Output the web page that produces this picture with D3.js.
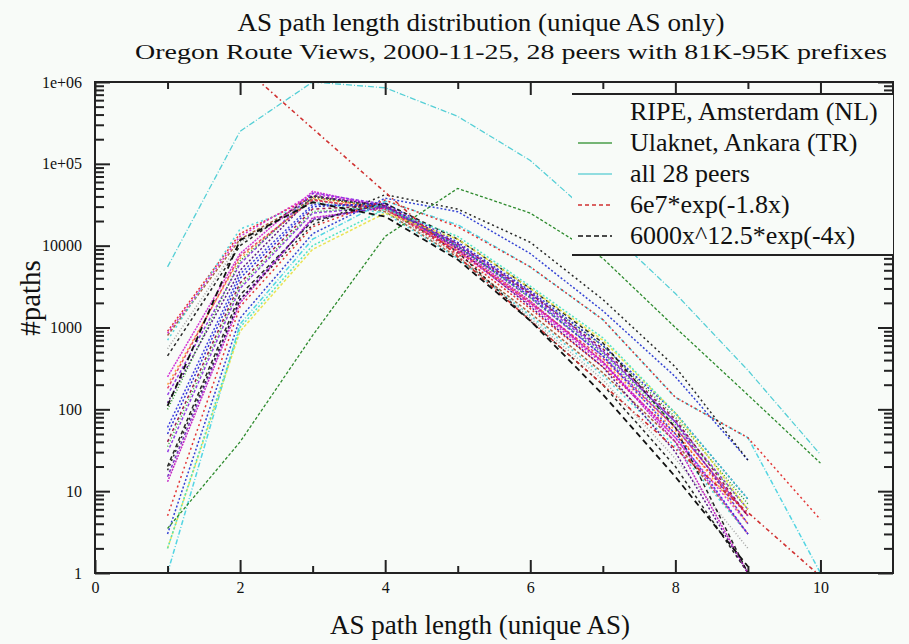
<!DOCTYPE html>
<html><head><meta charset="utf-8">
<script src="https://cdn.jsdelivr.net/npm/d3@7"></script>
<style>body{margin:0;background:#f8fbf8}svg{display:block}text{font-family:"Liberation Serif","Times New Roman",serif;fill:#111}</style>
</head><body><svg id="c" width="909" height="644"></svg>
<script>
// ---- data ----
const pathLengths = [1,2,3,4,5,6,7,8,9,10];
const xTickLabels = ["0","2","4","6","8","10"];
const yTickLabels = ["1","10","100","1000","10000","1e+05","1e+06"];
const titleText = "AS path length distribution (unique AS only)";
const subtitleText = "Oregon Route Views, 2000-11-25, 28 peers with 81K-95K  prefixes";
const xLabel = "AS path length (unique AS)";
const yLabel = "#paths";
const legendLabels = ["RIPE, Amsterdam (NL)","Ulaknet, Ankara (TR)","all 28 peers","6e7*exp(-1.8x)","6000x^12.5*exp(-4x)"];

// individual peers (values at path length 1,2,3,...)
const peerNames = ["A1","A2","A3","A4","A5","A6","B1","B2","B3","B4","B5","B6","C1","C2","C3","C4","C5","C6","C7","C8","D1","D2","D3","D4","D5","D6"];
const peerValues = [
  [900,14000,40000,28000,8000,1700,330,50,5],
  [800,12000,37000,26000,7200,1500,280,40,3],
  [700,16000,34000,25000,7000,1400,260,35,3],
  [550,11000,35000,27000,7600,1300,230,25,2],
  [450,10000,41000,29000,8400,1200,200,20,1],
  [850,13000,43000,30000,8500,1900,360,45,4],
  [250,8000,46000,30000,9000,2000,380,45,3],
  [150,6000,44000,32000,10000,2300,450,60,5],
  [200,7000,38000,29000,8800,2100,390,55,4],
  [120,5000,40000,31000,9200,1800,330,30,1],
  [100,6500,39000,30000,9500,2600,600,80,7],
  [180,7500,36000,28000,8600,2000,420,60,5],
  [50,4000,30000,33000,11000,2800,600,90,8],
  [30,3000,25000,30000,10000,2500,500,70,6],
  [13,2000,22000,29000,9500,2100,380,40,1],
  [40,3500,28000,31000,10500,2600,550,75,5],
  [20,2500,20000,33000,12000,3000,650,60,1],
  [60,4500,32000,30000,9800,2400,450,50,3],
  [35,3200,26000,30000,9800,2300,480,65,6],
  [15,2200,21000,30000,10500,2700,520,70,4],
  [1,1100,12000,35000,18000,5500,1250,140,45,1],
  [3,1300,14000,38000,26000,8000,1600,250,24],
  [2,900,9000,25000,12000,3000,700,90,6],
  [5,1800,17000,36000,17000,5500,1250,140,45,4.5],
  [2,1000,10000,28000,13000,3200,750,90,8],
  [18,2200,18000,42000,28000,11000,2200,330,24]
];
const peerColors = ["#e02020","#a0522d","#40d0d8","#999999","#111111","#d020d0",
  "#d020d0","#8a2be2","#ff9a30","#4b0082","#1a8a1a","#e03060",
  "#2020d0","#8a2be2","#c010c0","#900040","#111111","#3030e0","#30b030","#7020c0",
  "#40d0e0","#2030d0","#e8e040","#e02020","#40e0c0","#111111"];
const peerDash = ["2,2","3,2","2,3","1,2","3,3","2,2",
  "2,1","3,2","2,3","2,2","1,2","3,2",
  "2,2","3,2","2,1","3,3","4,3","2,2","1,2","3,2",
  "5,2,1,2","2,2","3,2","2,3","2,2","2,3"];

const ulaknet = [3.5,40,800,13000,50000,25000,7000,1000,150,22];
const allPeers = [5500,250000,1000000,850000,380000,110000,18000,2600,300,28];
const fitExp = [1640000,270000,45000,7400,1220,200,33,5.5,0.91];   // x = 2..10
const fitExpX = [2,3,4,5,6,7,8,9,10];
const fitPow = [110,11650,33900,22650,6750,1210,152,15,1.2];        // x = 1..9

// ---- layout ----
const svg = d3.select("#c");
const L=95,R=893,T=82,B=573;
const x = d3.scaleLinear().domain([0,11]).range([L,R]);
const y = d3.scaleLog().domain([1,1e6]).range([B,T]);

svg.append("rect").attr("width",909).attr("height",644).attr("fill","#f8fbf8");

svg.append("defs").append("clipPath").attr("id","clip")
  .append("rect").attr("x",L).attr("y",T).attr("width",R-L).attr("height",B-T);

const plot = svg.append("g").attr("clip-path","url(#clip)");
const line = d3.line().x(d=>x(d[0])).y(d=>y(d[1]));

peerValues.forEach((vals,i)=>{
  plot.append("path").datum(vals.map((v,j)=>[pathLengths[j],v]))
    .attr("d",line).attr("fill","none").attr("stroke",peerColors[i])
    .attr("stroke-width",1.5).attr("stroke-dasharray",peerDash[i]).attr("opacity",0.9);
});
plot.append("path").datum(ulaknet.map((v,j)=>[pathLengths[j],v]))
  .attr("d",line).attr("fill","none").attr("stroke","#2e8b2e").attr("stroke-width",1.3).attr("stroke-dasharray","3,2");
plot.append("path").datum(allPeers.map((v,j)=>[pathLengths[j],v]))
  .attr("d",line).attr("fill","none").attr("stroke","#55cfd6").attr("stroke-width",1.3).attr("stroke-dasharray","6,2,1,2");
plot.append("path").datum(fitExp.map((v,j)=>[fitExpX[j],v]))
  .attr("d",line).attr("fill","none").attr("stroke","#d03030").attr("stroke-width",1.6).attr("stroke-dasharray","4,3,1.5,3");
plot.append("path").datum(fitPow.map((v,j)=>[pathLengths[j],v]))
  .attr("d",line).attr("fill","none").attr("stroke","#111").attr("stroke-width",1.8).attr("stroke-dasharray","6,4");

// ---- axes ----
const majorX = d3.range(0,11,2), minorX = d3.range(1,11,2);
const decades = [1,10,100,1000,10000,1e5,1e6];
const minorY = [];
for(let d=1; d<1e6; d*=10) for(let k=2;k<10;k++) minorY.push(d*k);

const styleAxis = g=>{g.select(".domain").remove(); g.selectAll("line").attr("stroke","#222").attr("stroke-width",2);
  g.selectAll("text").attr("font-family","Liberation Serif, serif").attr("font-size",16).attr("fill","#111");};

svg.append("g").attr("transform",`translate(0,${B})`)
  .call(d3.axisBottom(x).tickValues(majorX).tickSize(-13).tickPadding(9).tickFormat((d,i)=>xTickLabels[i])).call(styleAxis);
svg.append("g").attr("transform",`translate(0,${B})`)
  .call(d3.axisBottom(x).tickValues(minorX).tickSize(-7).tickFormat("")).call(styleAxis);
svg.append("g").attr("transform",`translate(0,${T})`)
  .call(d3.axisTop(x).tickValues(majorX).tickSize(-13).tickFormat("")).call(styleAxis);
svg.append("g").attr("transform",`translate(0,${T})`)
  .call(d3.axisTop(x).tickValues(minorX).tickSize(-7).tickFormat("")).call(styleAxis);

svg.append("g").attr("transform",`translate(${L},0)`)
  .call(d3.axisLeft(y).tickValues(decades).tickSize(-15).tickPadding(13).tickFormat((d,i)=>yTickLabels[i])).call(styleAxis);
svg.append("g").attr("transform",`translate(${L},0)`)
  .call(d3.axisLeft(y).tickValues(minorY).tickSize(-9).tickFormat("")).call(styleAxis);
svg.append("g").attr("transform",`translate(${R},0)`)
  .call(d3.axisRight(y).tickValues(decades).tickSize(-15).tickFormat("")).call(styleAxis);
svg.append("g").attr("transform",`translate(${R},0)`)
  .call(d3.axisRight(y).tickValues(minorY).tickSize(-9).tickFormat("")).call(styleAxis);

svg.append("rect").attr("x",L).attr("y",T).attr("width",R-L).attr("height",B-T)
  .attr("fill","none").attr("stroke","#222").attr("stroke-width",2);

// ---- legend ----
const lg = svg.append("g");
lg.append("rect").attr("x",572).attr("y",94).attr("width",R-572).attr("height",161).attr("fill","#f8fbf8");
lg.append("line").attr("x1",572).attr("x2",R).attr("y1",94).attr("y2",94).attr("stroke","#222").attr("stroke-width",2);
lg.append("line").attr("x1",572).attr("x2",R).attr("y1",255).attr("y2",255).attr("stroke","#222").attr("stroke-width",2);
const legColors = [null,"#4a9e4a","#6fd3d8","#d03030","#111"];
const legDash = [null,null,null,"4,3","5,3"];
legendLabels.forEach((t,i)=>{
  const cy = 112 + i*31;
  if(legColors[i]) lg.append("line").attr("x1",578).attr("x2",612).attr("y1",cy).attr("y2",cy)
    .attr("stroke",legColors[i]).attr("stroke-width",1.6).attr("stroke-dasharray",legDash[i]);
  lg.append("text").attr("x",630).attr("y",cy+8).attr("font-size",26).text(t);
});

// ---- titles ----
svg.append("text").attr("x",481).attr("y",31).attr("text-anchor","middle").attr("font-size",26)
  .attr("textLength",487).attr("lengthAdjust","spacingAndGlyphs").text(titleText);
svg.append("text").attr("x",511).attr("y",59).attr("text-anchor","middle").attr("font-size",22)
  .attr("textLength",752).attr("lengthAdjust","spacingAndGlyphs").text(subtitleText);
svg.append("text").attr("x",480).attr("y",634).attr("text-anchor","middle").attr("font-size",27).text(xLabel);
svg.append("text").attr("transform","translate(40,298) rotate(-90)").attr("text-anchor","middle").attr("font-size",29).text(yLabel);
</script></body></html>
